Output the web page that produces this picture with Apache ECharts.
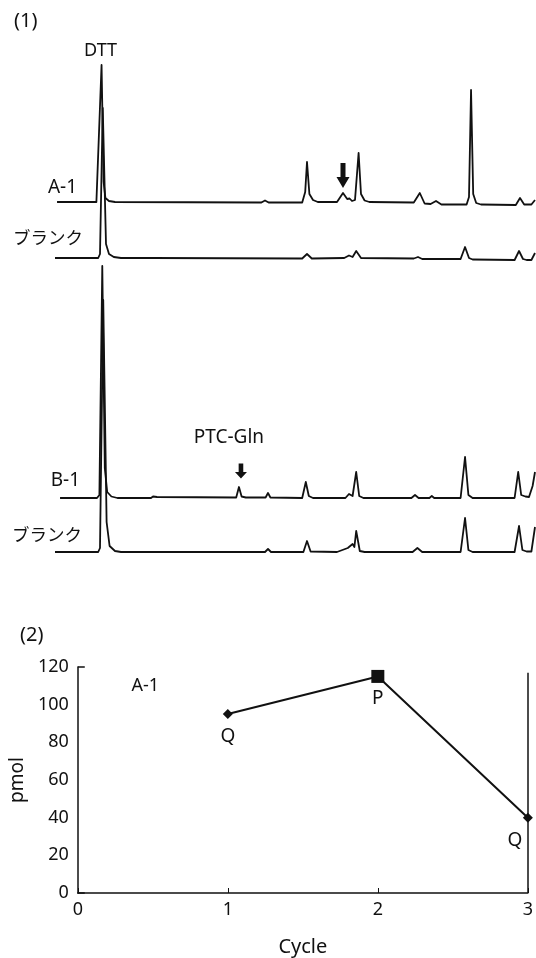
<!DOCTYPE html>
<html>
<head>
<meta charset="utf-8">
<script src="https://cdn.jsdelivr.net/npm/echarts@6/dist/echarts.min.js"></script>
<style>
  html, body { margin: 0; padding: 0; background: #fff; }
  #chart { width: 536px; height: 958px; }
</style>
</head>
<body>
<div id="chart"></div>
<script>
/* ========== (1) chromatograms: [retention time (min), signal] ========== */
const traceA1 = [
  [0.17, 0], [3.45, 0], [3.6, 2], [3.88, 137], [4.05, 20], [4.2, 4], [4.5, 1], [5, 0],
  [17.2, -0.5], [17.5, 1.5], [17.8, -0.5],
  [20.6, -0.5], [20.85, 10], [21.0, 40], [21.2, 8], [21.5, 2], [21.9, 0],
  [23.5, 0], [24.0, 9], [24.35, 3], [24.55, 3.5], [24.75, 1],
  [25.0, 2], [25.3, 49], [25.5, 8], [25.8, 1.5], [26.2, 0],
  [29.9, -0.5], [30.4, 9], [30.8, -1.5], [31.3, -2], [31.75, 1], [32.2, -2.5],
  [34.3, -2.5], [34.5, 5], [34.67, 112], [34.85, 8], [35.1, -1], [35.5, -2.5],
  [38.4, -3], [38.75, 4], [39.1, -2.5], [39.7, -2.5], [40, 2]
];
const traceBlank1 = [
  [0, 0], [3.6, 0], [3.75, 4], [3.98, 150], [4.25, 14], [4.5, 4], [4.9, 1], [5.5, 0],
  [7.8, 0], [7.92, 2], [8.05, 0],
  [20.6, -0.5], [21.0, 4], [21.4, -0.5],
  [24.1, 0], [24.5, 2.5], [24.8, 1], [25.1, 7], [25.5, 0],
  [29.9, -0.5], [30.25, 1], [30.6, -1],
  [33.8, -1], [34.17, 11], [34.5, 0], [34.8, -1.5],
  [38.3, -2], [38.67, 7], [39.0, -1], [39.3, -2], [39.7, -2], [40, 5]
];
const traceB1 = [
  [0.42, 0], [3.5, 0], [3.7, 3], [3.94, 232], [4.15, 30], [4.35, 6], [4.7, 1.5], [5.2, 0],
  [8.0, 0], [8.17, 1.5], [8.5, 1],
  [15.1, 0.5], [15.33, 11], [15.55, 1.5], [15.9, 0.5],
  [17.55, 0.5], [17.75, 5], [17.95, 0.5],
  [20.6, 0], [20.9, 16], [21.15, 2], [21.5, 0],
  [24.2, 0], [24.5, 4], [24.8, 2], [25.1, 26], [25.35, 2], [25.7, 0],
  [29.7, 0], [30.0, 3], [30.3, 0], [31.2, 0], [31.4, 2], [31.6, 0],
  [33.8, 0], [34.17, 41], [34.45, 3], [34.8, 0],
  [38.3, 0], [38.6, 26], [38.85, 3], [39.2, 1.5], [39.5, 1], [39.8, 12], [40, 26]
];
const traceBlank2 = [
  [0, 0], [3.6, 0], [3.75, 4], [4.02, 252], [4.3, 30], [4.55, 6], [5.0, 1], [5.5, 0],
  [17.5, 0], [17.75, 3], [18.0, 0],
  [20.7, 0], [21.0, 11], [21.3, 0.5],
  [23.5, 0], [24.4, 4], [24.8, 8], [24.95, 5], [25.1, 21], [25.4, 1], [25.8, 0],
  [29.8, 0], [30.2, 4], [30.6, 0],
  [33.8, 0], [34.17, 34], [34.45, 2], [34.8, 0],
  [38.3, 0], [38.67, 26], [38.95, 2], [39.3, 0.5], [39.7, 0.5], [40, 25]
];
const traceNames = ["A-1", "ブランク", "B-1", "ブランク"];
const dttPeak = [3.88, 137];      // DTT peak on A-1
const arrowA1 = [24.0, 9];        // marked peak on A-1
const ptcGlnPeak = [15.33, 11];   // PTC-Gln on B-1

/* ========== (2) pmol per cycle ========== */
const cycles = [1, 2, 3];
const pmol = [95, 115, 40];
const residues = ["Q", "P", "Q"];
const panelLabel = "A-1";

const FONT = '"Noto Sans", "Noto Sans CJK JP", sans-serif';
const INK = "#111";
const ARROW = "path://M4,0 L9,0 L9,14 L13,14 L6.5,25 L0,14 L4,14 Z";

const chart = echarts.init(document.getElementById("chart"), null, { renderer: "canvas" });

// 名前ラベル (trace start に付ける)
function nameMark(name, pt, base, offset) {
  const cjk = /[^\x00-\x7f]/.test(name);
  return {
    coord: [pt[0], pt[1] + base],
    symbol: "circle", symbolSize: 1,
    itemStyle: { color: "rgba(0,0,0,0)" },
    label: {
      show: true, formatter: name, position: "inside", align: "right",
      verticalAlign: "middle", offset, color: INK, fontFamily: FONT,
      fontSize: cjk ? 17.5 : 19
    }
  };
}

function trace(name, pts, base, labelOffset, extraMarks) {
  return {
    type: "line", name, xAxisIndex: 0, yAxisIndex: 0,
    data: pts.map(p => [p[0], p[1] + base]),
    showSymbol: false, symbol: "none", clip: false, silent: true,
    animation: false,
    lineStyle: { color: INK, width: 1.8, join: "round" },
    markPoint: {
      animation: false, silent: true,
      data: [nameMark(name, pts[0], base, labelOffset)].concat(extraMarks || [])
    }
  };
}

const baseA1 = 358, baseBl1 = 302, baseB1 = 62, baseBl2 = 8;

const option = {
  backgroundColor: "#fff",
  animation: false,
  title: [
    { text: "(1)", left: 9, top: 6, textStyle: { fontFamily: FONT, fontSize: 20, fontWeight: "normal", color: INK } },
    { text: "(2)", left: 15, top: 620, textStyle: { fontFamily: FONT, fontSize: 20, fontWeight: "normal", color: INK } }
  ],
  grid: [
    { left: 55, right: 1, top: 60, height: 500 },
    { left: 77, right: 5, top: 667, height: 236 }
  ],
  xAxis: [
    { type: "value", gridIndex: 0, min: 0, max: 40, show: false },
    {
      type: "value", gridIndex: 1, min: 0, max: 3, interval: 1,
      name: "Cycle", nameLocation: "middle", nameGap: 44,
      nameTextStyle: { fontFamily: FONT, fontSize: 20, color: INK },
      axisLine: { show: true, lineStyle: { color: INK, width: 1.5 } },
      axisTick: { show: true, inside: true, length: 5, lineStyle: { color: INK } },
      axisLabel: { margin: 8, fontFamily: FONT, fontSize: 18, color: INK },
      splitLine: { show: false }
    }
  ],
  yAxis: [
    { type: "value", gridIndex: 0, min: 0, max: 500, show: false },
    {
      type: "value", gridIndex: 1, position: "left", min: 0, max: 120, interval: 20,
      name: "pmol", nameLocation: "middle", nameGap: 44, nameRotate: 90,
      nameTextStyle: { fontFamily: FONT, fontSize: 19, color: INK },
      axisLine: { show: true, lineStyle: { color: INK, width: 1.5 } },
      axisTick: { show: false },
      axisLabel: { margin: 9, fontFamily: FONT, fontSize: 18, color: INK },
      splitLine: { show: false }
    },
    {
      // top tick only
      type: "value", gridIndex: 1, position: "left", offset: 0,
      min: 0, max: 120, interval: 120,
      axisLine: { show: false },
      axisTick: { show: true, inside: true, length: 7, lineStyle: { color: INK, width: 1.5 } },
      axisLabel: { show: false }, splitLine: { show: false }
    }
  ],
  series: [
    trace(traceNames[0], traceA1, baseA1, [20, -14], [
      {
        coord: [dttPeak[0], dttPeak[1] + baseA1],
        symbol: "circle", symbolSize: 1, itemStyle: { color: "rgba(0,0,0,0)" },
        label: { show: true, formatter: "DTT", position: "inside", offset: [-1, -14],
          color: INK, fontFamily: FONT, fontSize: 18 }
      },
      {
        coord: [arrowA1[0], arrowA1[1] + baseA1],
        symbol: ARROW, symbolSize: [13, 25], symbolOffset: [0, -17.5],
        itemStyle: { color: INK }, label: { show: false }
      }
    ]),
    trace(traceNames[1], traceBlank1, baseBl1, [28, -19]),
    trace(traceNames[2], traceB1, baseB1, [20, -17], [
      {
        coord: [ptcGlnPeak[0], ptcGlnPeak[1] + baseB1],
        symbol: ARROW, symbolSize: [12, 15], symbolOffset: [2, -16],
        itemStyle: { color: INK },
        label: { show: true, formatter: "PTC-Gln", position: "top", distance: 16, offset: [-12, 0],
          color: INK, fontFamily: FONT, fontSize: 19 }
      }
    ]),
    trace(traceNames[3], traceBlank2, baseBl2, [27, -16]),
    {
      type: "line", xAxisIndex: 1, yAxisIndex: 1, clip: false, animation: false,
      data: cycles.map((c, i) => ({
        value: [c, pmol[i]],
        symbol: residues[i] === "P" ? "rect" : "diamond",
        symbolSize: residues[i] === "P" ? 13 : 10,
        label: {
          show: true, formatter: residues[i], position: "bottom",
          distance: residues[i] === "P" ? 6 : 8,
          offset: i === cycles.length - 1 ? [-13, 0] : [0, 0]
        }
      })),
      lineStyle: { color: INK, width: 2 },
      itemStyle: { color: INK },
      label: { color: INK, fontFamily: FONT, fontSize: 19 },
      markLine: {
        silent: true, symbol: "none", animation: false,
        label: { show: false },
        lineStyle: { color: INK, width: 1.5, type: "solid" },
        data: [[{ coord: [3, 0] }, { coord: [3, 117] }]]
      },
      markPoint: {
        silent: true, animation: false,
        data: [{
          coord: [0.45, 110], symbol: "circle", symbolSize: 1,
          itemStyle: { color: "rgba(0,0,0,0)" },
          label: { show: true, formatter: panelLabel, position: "inside",
            color: INK, fontFamily: FONT, fontSize: 18 }
        }]
      }
    }
  ]
};

chart.setOption(option);
</script>
</body>
</html>
